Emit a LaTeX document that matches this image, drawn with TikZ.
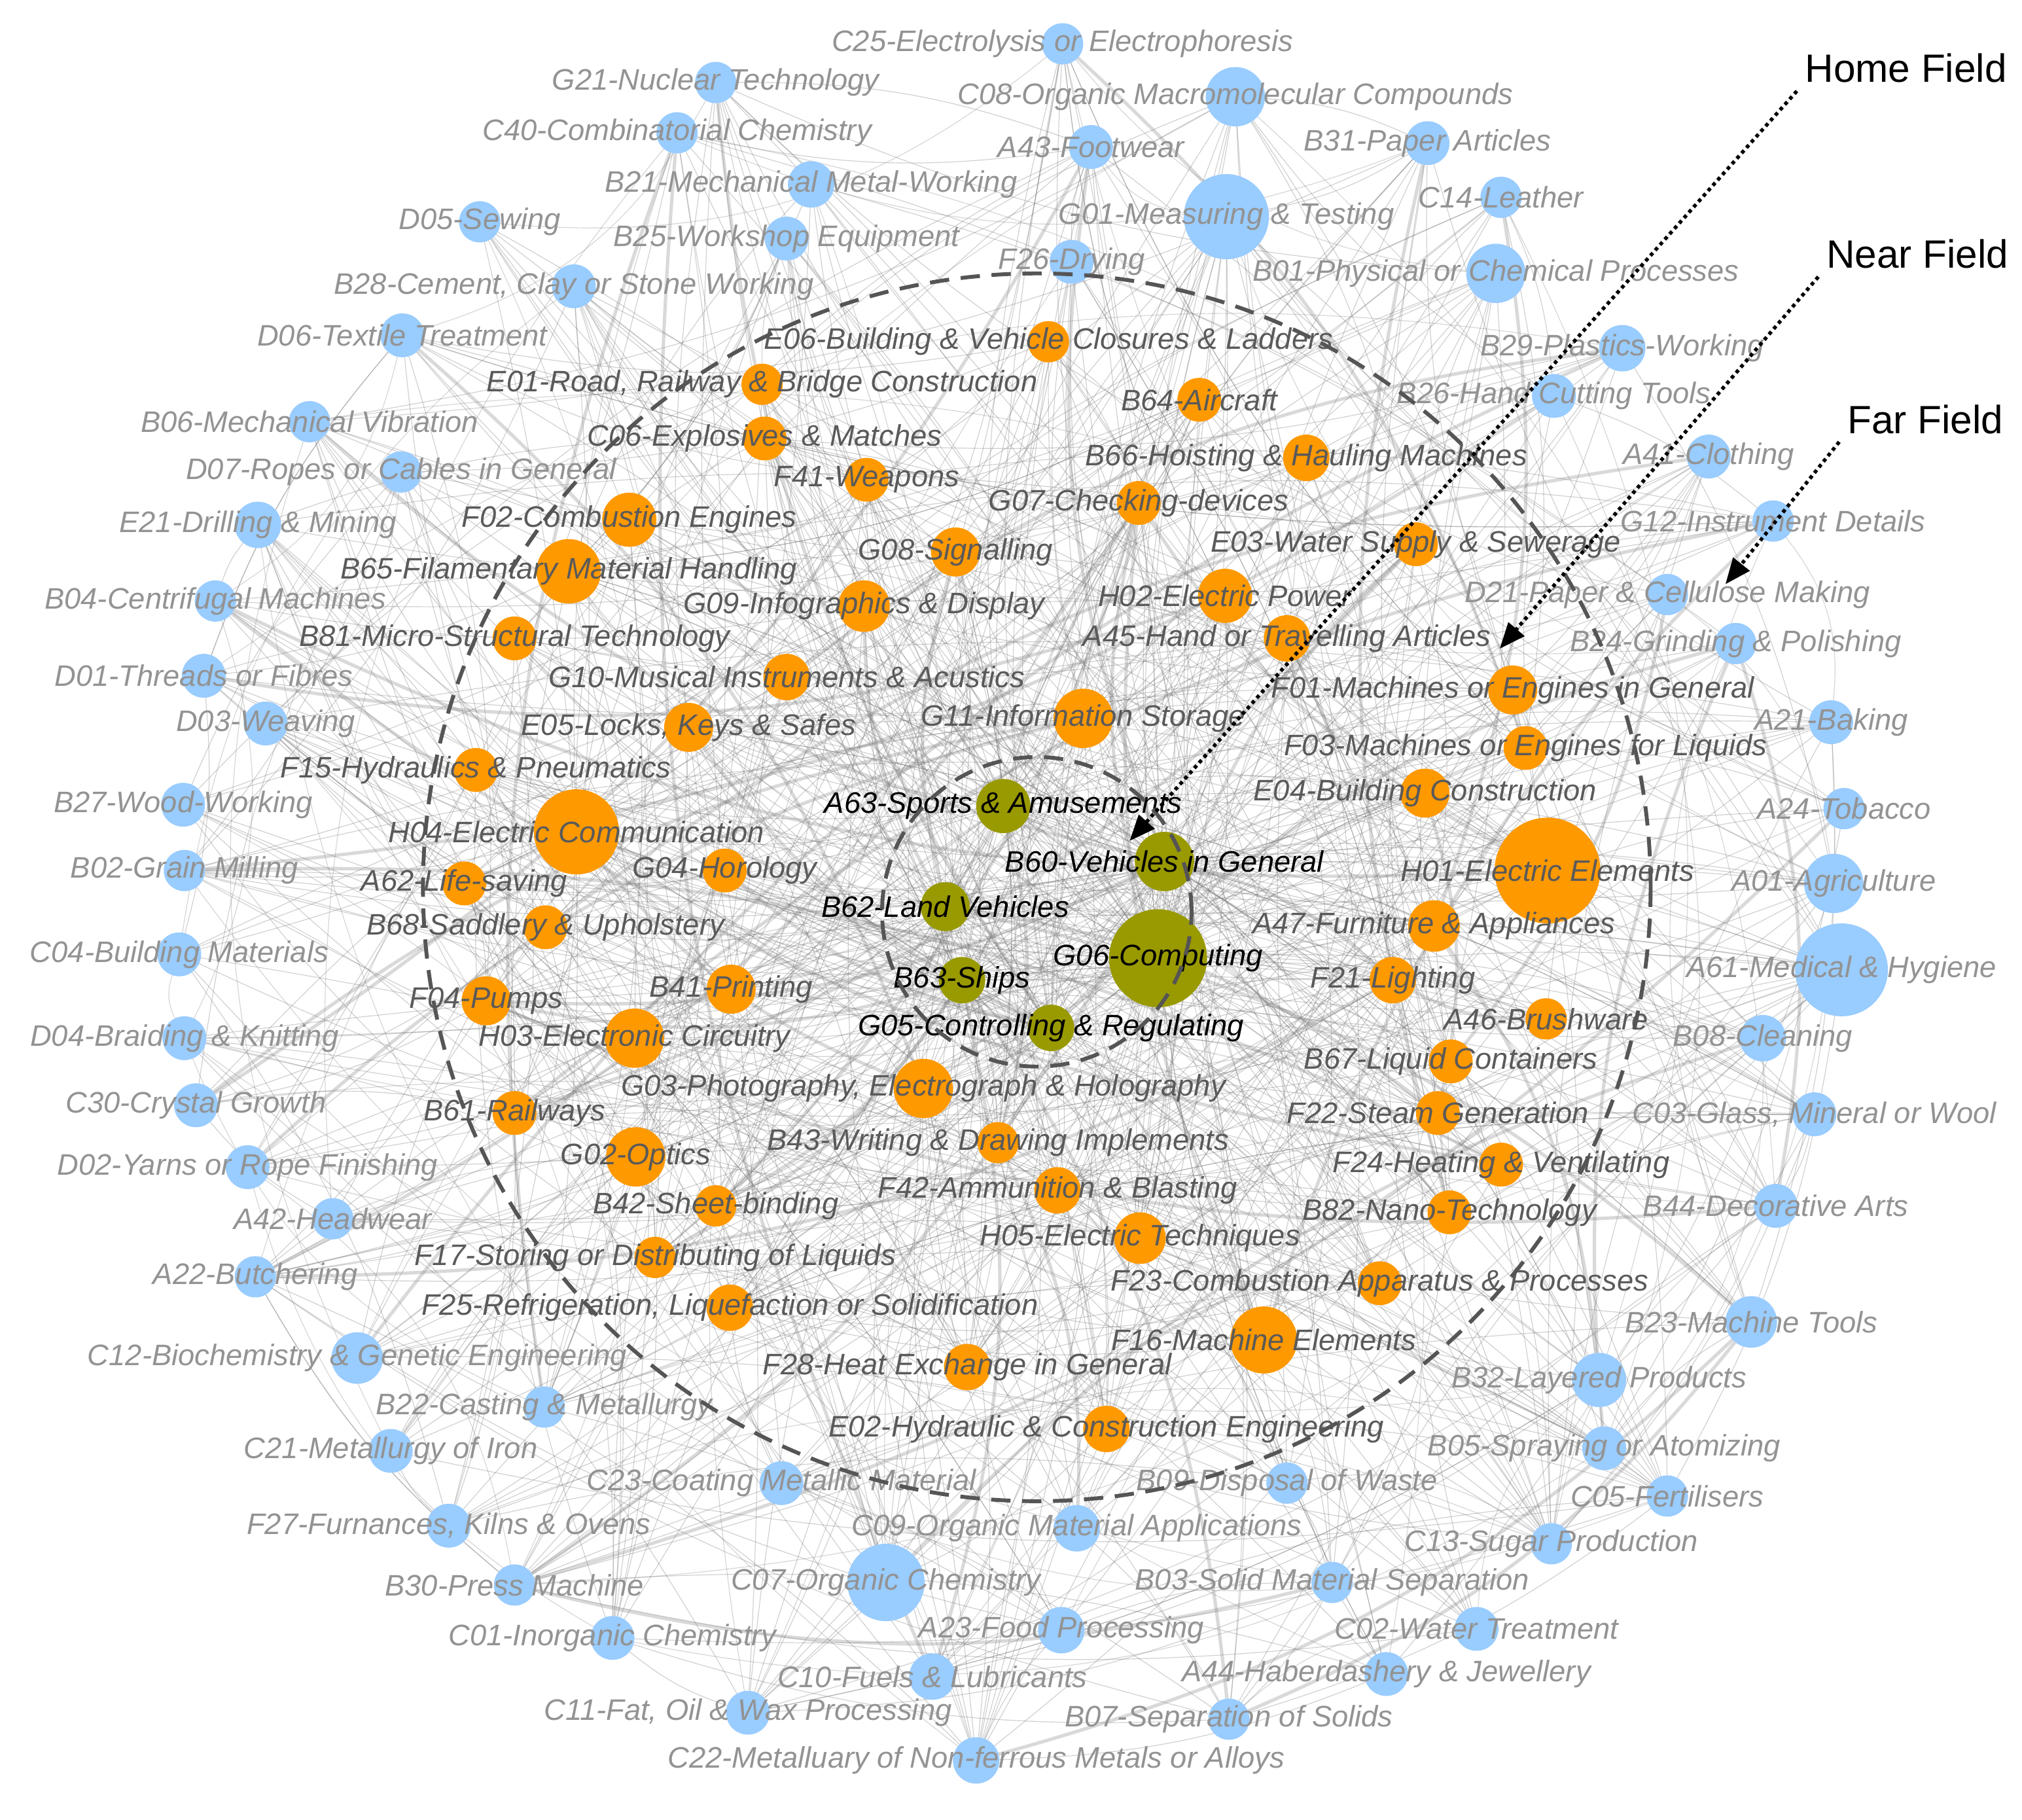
\documentclass[tikz,border=0pt]{standalone}
\usepackage{fontspec}
\setmainfont{Liberation Sans}
\usetikzlibrary{arrows.meta}
\pgfdeclarelayer{bg}
\pgfsetlayers{bg,main}
\definecolor{farfill}{HTML}{99CCFF}
\definecolor{nearfill}{HTML}{FF9900}
\definecolor{homefill}{HTML}{999900}
\definecolor{fartext}{HTML}{939393}
\definecolor{neartext}{HTML}{5A5A5A}
\definecolor{ringcol}{HTML}{555555}
\definecolor{linkcol}{HTML}{7A7A7A}
\tikzset{
  bubble/.style={circle, inner sep=0pt, outer sep=0pt},
  farnode/.style={bubble, fill=farfill},
  nearnode/.style={bubble, fill=nearfill},
  homenode/.style={bubble, fill=homefill},
  lab/.style={inner sep=0pt, font=\itshape\fontsize{11.5}{13}\selectfont},
  farlab/.style={lab, text=fartext},
  nearlab/.style={lab, text=neartext},
  homelab/.style={lab, text=black},
  link/.style={draw=linkcol, line width=0.3pt, opacity=0.35, bend left=10},
  outerlink/.style={draw=linkcol, line width=0.3pt, opacity=0.3, bend left=22},
  heavylink/.style={draw=linkcol, line width=1.3pt, opacity=0.28, bend left=14},
  fieldring/.style={draw=ringcol, line width=1.5pt, dash pattern=on 7.5pt off 4.5pt},
  fieldlab/.style={font=\fontsize{15.3}{18}\selectfont, inner sep=3pt},
  fieldarrow/.style={line width=1.4pt, dash pattern=on 1.4pt off 1.4pt, -{Triangle[length=10pt,width=8pt]}},
}
\def\homelist{778/625/42/A63-Sports \& Amusements,
903/668/46/B60-Vehicles in General,
733/703/38/B62-Land Vehicles,
898/743/76/G06-Computing,
746/760/36/B63-Ships,
815/797/36/G05-Controlling \& Regulating}
\def\nearlist{813/265/32/E06-Building \& Vehicle Closures \& Ladders,
{591/298/32/E01-Road, Railway \& Bridge Construction},
930/310/34/B64-Aircraft,
593/340/34/C06-Explosives \& Matches,
1013/355/36/B66-Hoisting \& Hauling Machines,
672/372/34/F41-Weapons,
883/390/34/G07-Checking-devices,
488/403/42/F02-Combustion Engines,
1098/422/34/E03-Water Supply \& Sewerage,
741/428/38/G08-Signalling,
441/443/50/B65-Filamentary Material Handling,
950/462/42/H02-Electric Power,
670/470/40/G09-Infographics \& Display,
998/495/36/A45-Hand or Travelling Articles,
399/495/34/B81-Micro-Structural Technology,
1173/535/38/F01-Machines or Engines in General,
610/525/36/G10-Musical Instruments \& Acustics,
840/557/46/G11-Information Storage,
{534/564/38/E05-Locks, Keys \& Safes},
1183/580/34/F03-Machines or Engines for Liquids,
369/597/34/F15-Hydraulics \& Pneumatics,
1105/615/38/E04-Building Construction,
447/645/66/H04-Electric Communication,
562/675/34/G04-Horology,
1200/675/82/H01-Electric Elements,
360/685/34/A62-Life-saving,
423/719/34/B68-Saddlery \& Upholstery,
1112/718/40/A47-Furniture \& Appliances,
377/776/38/F04-Pumps,
567/767/38/B41-Printing,
1080/760/36/F21-Lighting,
1199/790/32/A46-Brushware,
492/805/46/H03-Electronic Circuitry,
{716/844/46/G03-Photography, Electrograph \& Holography},
1125/823/34/B67-Liquid Containers,
399/863/34/B61-Railways,
1115/863/34/F22-Steam Generation,
493/897/46/G02-Optics,
774/886/32/B43-Writing \& Drawing Implements,
1164/903/34/F24-Heating \& Ventilating,
820/923/36/F42-Ammunition \& Blasting,
555/935/32/B42-Sheet-binding,
1124/940/34/B82-Nano-Technology,
884/960/40/H05-Electric Techniques,
508/975/32/F17-Storing or Distributing of Liquids,
1070/995/34/F23-Combustion Apparatus \& Processes,
{566/1014/36/F25-Refrigeration, Liquefaction or Solidification},
980/1039/52/F16-Machine Elements,
750/1060/36/F28-Heat Exchange in General,
858/1108/36/E02-Hydraulic \& Construction Engineering}
\def\farlist{824/34/32/C25-Electrolysis or Electrophoresis,
555/64/32/G21-Nuclear Technology,
958/75/46/C08-Organic Macromolecular Compounds,
525/103/32/C40-Combinatorial Chemistry,
846/114/34/A43-Footwear,
1107/111/34/B31-Paper Articles,
629/143/36/B21-Mechanical Metal-Working,
1164/153/32/C14-Leather,
951/168/66/G01-Measuring \& Testing,
372/172/32/D05-Sewing,
610/185/34/B25-Workshop Equipment,
831/203/34/F26-Drying,
1160/212/46/B01-Physical or Chemical Processes,
{445/222/34/B28-Cement, Clay or Stone Working},
312/260/34/D06-Textile Treatment,
1258/270/36/B29-Plastics-Working,
1205/307/34/B26-Hand Cutting Tools,
240/327/32/B06-Mechanical Vibration,
311/366/32/D07-Ropes or Cables in General,
1325/354/34/A41-Clothing,
200/407/36/E21-Drilling \& Mining,
1375/404/32/G12-Instrument Details,
167/466/32/B04-Centrifugal Machines,
1293/461/32/D21-Paper \& Cellulose Making,
1346/499/32/B24-Grinding \& Polishing,
158/524/34/D01-Threads or Fibres,
1420/560/34/A21-Baking,
206/561/34/D03-Weaving,
142/624/34/B27-Wood-Working,
1430/627/32/A24-Tobacco,
143/675/32/B02-Grain Milling,
1422/685/46/A01-Agriculture,
139/740/34/C04-Building Materials,
1428/752/72/A61-Medical \& Hygiene,
143/805/34/D04-Braiding \& Knitting,
1367/805/36/B08-Cleaning,
152/857/34/C30-Crystal Growth,
{1407/864/34/C03-Glass, Mineral or Wool},
192/905/34/D02-Yarns or Rope Finishing,
258/945/32/A42-Headwear,
1377/935/34/B44-Decorative Arts,
198/990/32/A22-Butchering,
1358/1025/40/B23-Machine Tools,
277/1053/40/C12-Biochemistry \& Genetic Engineering,
1240/1070/42/B32-Layered Products,
422/1091/32/B22-Casting \& Metallurgy,
303/1125/34/C21-Metallurgy of Iron,
1244/1123/34/B05-Spraying or Atomizing,
606/1150/34/C23-Coating Metallic Material,
998/1150/32/B09-Disposal of Waste,
1293/1160/32/C05-Fertilisers,
{348/1183/34/F27-Furnances, Kilns \& Ovens},
835/1185/36/C09-Organic Material Applications,
1203/1197/32/C13-Sugar Production,
399/1229/32/B30-Press Machine,
687/1227/60/C07-Organic Chemistry,
1033/1227/32/B03-Solid Material Separation,
475/1270/34/C01-Inorganic Chemistry,
823/1264/36/A23-Food Processing,
1145/1263/34/C02-Water Treatment,
723/1300/36/C10-Fuels \& Lubricants,
1075/1298/34/A44-Haberdashery \& Jewellery,
{580/1328/34/C11-Fat, Oil \& Wax Processing},
953/1333/32/B07-Separation of Solids,
757/1365/36/C22-Metalluary of Non-ferrous Metals or Alloys}
\begin{document}
\begin{tikzpicture}[x=0.5pt, y=-0.5pt]
\useasboundingbox (0,0) rectangle (1568,1411);
% node discs
\foreach \x/\y/\d/\t [count=\i from 57] in \farlist {
  \node[farnode, minimum size=\d*0.5pt] (v\i) at (\x,\y) {};
}
\foreach \x/\y/\d/\t [count=\i from 7] in \nearlist {
  \node[nearnode, minimum size=\d*0.5pt] (v\i) at (\x,\y) {};
}
\foreach \x/\y/\d/\t [count=\i from 1] in \homelist {
  \node[homenode, minimum size=\d*0.5pt] (v\i) at (\x,\y) {};
}
% connectors
\pgfmathsetseed{2024}
\begin{pgfonlayer}{bg}
\fill[white] (0,0) rectangle (1568,1411);
\foreach \x/\y/\d/\t [count=\i from 57] in \farlist {
  \pgfmathtruncatemacro\k{\d/7}
  \foreach \e in {1,...,\k} {
    \pgfmathtruncatemacro\b{random(1,121)}
    \pgfmathtruncatemacro\hv{rnd<0.08}
    \ifnum\b=\i\relax\else
      \ifnum\hv=1 \draw[heavylink] (v\i) to (v\b);
      \else \draw[link] (v\i) to (v\b); \fi
    \fi
  }
  \pgfmathtruncatemacro\c{random(57,121)}
  \ifnum\c=\i\relax\else \draw[outerlink] (v\i) to (v\c); \fi
}
\foreach \x/\y/\d/\t [count=\i from 7] in \nearlist {
  \pgfmathtruncatemacro\k{\d/5}
  \foreach \e in {1,...,\k} {
    \pgfmathtruncatemacro\b{random(1,121)}
    \pgfmathtruncatemacro\hv{rnd<0.08}
    \ifnum\b=\i\relax\else
      \ifnum\hv=1 \draw[heavylink] (v\i) to (v\b);
      \else \draw[link] (v\i) to (v\b); \fi
    \fi
  }
}
\foreach \i in {1,...,6} {
  \foreach \j in {7,...,121} {
    \pgfmathsetmacro\pr{ifthenelse(\j<57,0.55,0.28)}
    \pgfmathtruncatemacro\ok{rnd<\pr}
    \pgfmathtruncatemacro\hv{rnd<0.06}
    \ifnum\ok=1
      \ifnum\hv=1 \draw[heavylink] (v\i) to (v\j);
      \else \draw[link] (v\i) to (v\j); \fi
    \fi
  }
}
\end{pgfonlayer}
% labels
\foreach \x/\y/\d/\t [count=\i from 57] in \farlist {
  \node[farlab] at (v\i) {\t};
}
\foreach \x/\y/\d/\t [count=\i from 7] in \nearlist {
  \node[nearlab] at (v\i) {\t};
}
\foreach \x/\y/\d/\t [count=\i from 1] in \homelist {
  \node[homelab] at (v\i) {\t};
}
% field rings
\coordinate (ringcentre) at (804,688);
\coordinate (homecentre) at (804,707);
\draw[fieldring] (ringcentre) circle[radius=238pt];
\draw[fieldring] (homecentre) circle[radius=60pt];
% field pointers
\node[fieldlab] (hf) at (1478,53) {Home Field};
\node[fieldlab] (nf) at (1487,197) {Near Field};
\node[fieldlab] (ff) at (1493,325) {Far Field};
\coordinate (hft) at (876,652);
\coordinate (nft) at (1163,503);
\coordinate (fft) at (1338,453);
\draw[fieldarrow] (hf.south west) -- (hft);
\draw[fieldarrow] (nf.south west) -- (nft);
\draw[fieldarrow] (ff.south west) -- (fft);
\end{tikzpicture}
\end{document}
